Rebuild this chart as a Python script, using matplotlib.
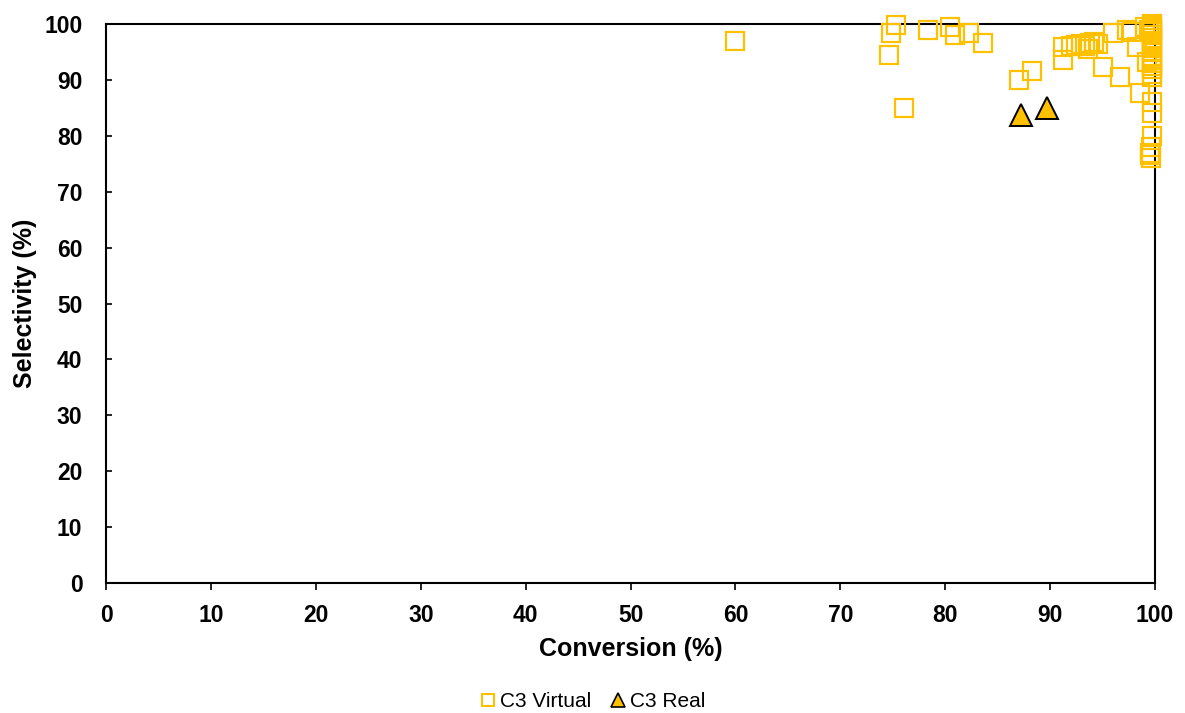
import matplotlib
matplotlib.use("Agg")
import matplotlib.pyplot as plt
from matplotlib.lines import Line2D

plt.rcParams['font.family'] = ['Liberation Sans', 'DejaVu Sans']

virtual_conv = [60.0, 74.6, 74.8, 75.3, 76.1, 78.4, 80.5, 80.9, 82.3, 83.6,
                87.0, 88.3, 91.2, 91.2, 92.0, 92.5, 92.9, 93.3, 93.6, 93.8, 94.2, 94.6,
                95.0, 96.0, 96.7, 97.3, 97.8, 98.3, 98.6, 99.0, 99.2, 99.4,
                99.7, 99.7, 99.7, 99.7, 99.7, 99.7, 99.7, 99.7, 99.7, 99.7,
                99.7, 99.7, 99.7, 99.7, 99.7, 99.7, 99.7, 99.7, 99.7, 99.7,
                99.7, 99.6, 99.5, 99.5, 99.6]
virtual_sel = [97.0, 94.5, 98.4, 99.8, 85.0, 98.9, 99.5, 98.0, 98.4, 96.6,
               90.0, 91.6, 95.9, 93.6, 96.0, 96.2, 96.4, 96.0, 95.5, 96.6, 96.8, 96.5,
               92.3, 98.4, 90.5, 98.9, 98.6, 95.9, 87.7, 99.5, 93.2, 99.0,
               100.0, 99.7, 99.3, 99.0, 98.5, 98.0, 97.5, 97.0, 96.5, 96.0,
               95.0, 94.0, 93.5, 93.0, 92.5, 92.0, 91.0, 90.5, 86.0, 84.0,
               80.0, 78.0, 77.0, 76.5, 76.0]
real_conv = [87.2, 89.7]
real_sel = [83.7, 85.0]

fig = plt.figure(figsize=(11.85, 7.13), dpi=100)
ax = fig.add_axes([0.0895, 0.1823, 0.8852, 0.784])

orange = '#FFC000'
ax.plot(virtual_conv, virtual_sel, linestyle='none', marker='s', markersize=12.5,
        markerfacecolor='none', markeredgecolor=orange, markeredgewidth=1.6,
        clip_on=False, zorder=3)
ax.plot(real_conv, real_sel, linestyle='none', marker='^', markersize=15.5,
        markerfacecolor=orange, markeredgecolor='black', markeredgewidth=1.4,
        clip_on=False, zorder=4)

ax.set_xlim(0, 100)
ax.set_ylim(0, 100)
ax.set_xticks(range(0, 101, 10))
ax.set_yticks(range(0, 101, 10))
for s in ax.spines.values():
    s.set_color('black')
    s.set_linewidth(1.5)
ax.tick_params(axis='x', direction='out', length=5, width=1.2, labelsize=16.5, pad=10)
ax.tick_params(axis='y', direction='in', length=4, width=1.2, labelsize=16.5, pad=17)
for lab in ax.get_xticklabels() + ax.get_yticklabels():
    lab.set_fontweight('bold')
ax.set_xlabel('Conversion (%)', fontsize=18, fontweight='bold', labelpad=7)
ax.set_ylabel('Selectivity (%)', fontsize=18, fontweight='bold', labelpad=5)

handles = [Line2D([], [], linestyle='none', marker='s', markersize=8.5,
                  markerfacecolor='none', markeredgecolor=orange, markeredgewidth=1.5),
           Line2D([], [], linestyle='none', marker='^', markersize=10,
                  markerfacecolor=orange, markeredgecolor='black', markeredgewidth=1.2)]
fig.legend(handles, ['C3 Virtual', 'C3 Real'], loc='center', bbox_to_anchor=(0.5, 0.016),
           ncol=2, frameon=False, fontsize=15, handlelength=0.8, handletextpad=0.15,
           columnspacing=0.9)

fig.savefig('out.png', dpi=100)
